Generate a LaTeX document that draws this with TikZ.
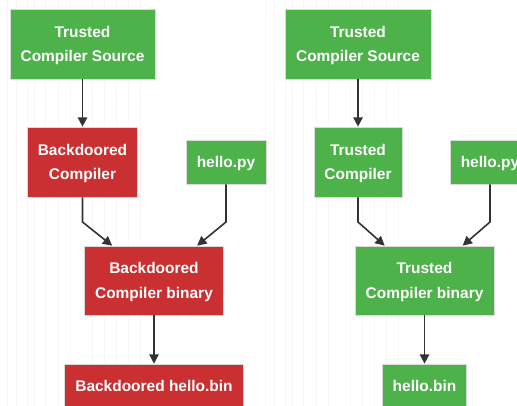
\documentclass[tikz,border=0pt]{standalone}
\usepackage{fontspec}
\setmainfont{Liberation Sans}
\usetikzlibrary{arrows.meta,calc}
\definecolor{gbox}{HTML}{4DB24A}
\definecolor{rbox}{HTML}{CA2F31}
\definecolor{edgec}{HTML}{333333}
\definecolor{bordc}{HTML}{DADADA}
\tikzset{
  box/.style={draw=bordc, line width=0.5pt, text=white, align=center,
    font=\bfseries\fontsize{11.6}{18.2}\selectfont, inner sep=0pt},
  oneline/.style={text height=8.6pt, text depth=-0.4pt, minimum height=44*0.75pt},
  twoline/.style={text depth=-0.8pt},
  gnode/.style={box, fill=gbox},
  rnode/.style={box, fill=rbox},
  conn/.style={draw=edgec, line width=1.2pt, -{Triangle[length=7pt,width=7pt]}},
}
\begin{document}
\begin{tikzpicture}[x=0.75pt,y=-0.75pt]
\useasboundingbox (0,0) rectangle (517,406);
\fill[white] (0,0) rectangle (517,406);
\foreach \xx in {7,16,27,34,45,58,70,92,104,116,128,140} {
  \draw[black!3, line width=0.4pt] (\xx,0) -- (\xx,406);
  \draw[black!3, line width=0.4pt] (\xx+258,0) -- (\xx+258,406);
}
% left
\node[gnode, twoline, minimum width=145*0.75pt, minimum height=70*0.75pt] (tcsL) at (82.5,44) {Trusted\\Compiler Source};
\node[rnode, twoline, minimum width=110*0.75pt, minimum height=70*0.75pt] (bcL) at (82.5,162) {Backdoored\\Compiler};
\node[gnode, oneline, minimum width=80*0.75pt] (hpyL) at (226,162) {hello.py};
\node[rnode, twoline, minimum width=139*0.75pt, minimum height=69*0.75pt] (bbin) at (154,280.5) {Backdoored\\Compiler binary};
\node[rnode, oneline, minimum width=179*0.75pt] (bhb) at (154,386) {Backdoored hello.bin};
% right
\node[gnode, twoline, minimum width=146*0.75pt, minimum height=70*0.75pt] (tcsR) at (358,44) {Trusted\\Compiler Source};
\node[gnode, twoline, minimum width=88*0.75pt, minimum height=70*0.75pt] (tcR) at (358,162) {Trusted\\Compiler};
\node[gnode, oneline, minimum width=80*0.75pt] (hpyR) at (490,162) {hello.py};
\node[gnode, twoline, minimum width=139*0.75pt, minimum height=69*0.75pt] (tbin) at (424.5,280.5) {Trusted\\Compiler binary};
\node[gnode, oneline, minimum width=84*0.75pt] (hb) at (424.5,386) {hello.bin};
% bends
\coordinate (k1) at (82.5,222);
\coordinate (k2) at (226,222);
\coordinate (k3) at (358,222);
\coordinate (k4) at (490,222);
% connectors
\draw[conn] (tcsL.south) -- (bcL.north);
\draw[conn] (bcL.south) -- (k1) -- ($(bbin.north west)+(28,0)$);
\draw[conn] (hpyL.south) -- (k2) -- ($(bbin.north west)+(113,0)$);
\draw[conn] (bbin.south) -- (bhb.north);
\draw[conn] (tcsR.south) -- (tcR.north);
\draw[conn] (tcR.south) -- (k3) -- ($(tbin.north west)+(30,0)$);
\draw[conn] (hpyR.south) -- (k4) -- ($(tbin.north west)+(108,0)$);
\draw[conn] (tbin.south) -- (hb.north);
\end{tikzpicture}
\end{document}
